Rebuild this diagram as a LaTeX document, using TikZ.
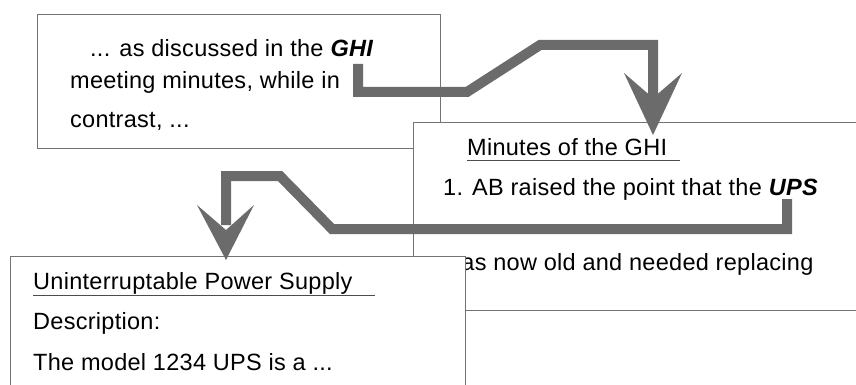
\documentclass[tikz,border=0pt]{standalone}
\usepackage{fontspec}
\setmainfont[LetterSpace=1.2]{Liberation Sans}
\begin{document}
\begin{tikzpicture}[x=1pt,y=-1pt,
  box/.style={draw=black!55, line width=0.7pt, fill=white, anchor=north west, inner sep=0pt},
  txt/.style={anchor=base west, inner sep=0pt, font=\fontsize{23.5}{26}\selectfont},
  uline/.style={draw=black!70, line width=0.8pt},
  band/.style={draw=black!58, line width=10pt, line join=miter},
  head/.style={fill=black!58}]
\useasboundingbox (0,0) rectangle (856,385);
\clip (0,0) rectangle (856,385);
% box 1
\node[box, minimum width=403pt, minimum height=134pt] (b1) at (37,14) {};
\node[txt] (a1) at (90,57) {... as discussed in the \textbf{\textit{GHI}}};
\node[txt] (a2) at (70,89) {meeting minutes, while in};
\node[txt] (a3) at (70,128) {contrast, ...};
% box 2
\node[box, minimum width=460pt, minimum height=188pt] (b2) at (413,122) {};
\node[txt] (m1) at (467,155) {Minutes of the GHI};
\draw[uline] ([yshift=-5pt]m1.base west) -- ++(213,0);
\node[txt] (m2) at (443,195) {1. AB raised the point that the \textbf{\textit{UPS}}};
\node[txt] (m3) at (444,270) {was now old and needed replacing};
% box 3
\node[box, minimum width=455pt, minimum height=150pt] (b3) at (10,256) {};
\node[txt] (u1) at (33,289) {Uninterruptable Power Supply};
\draw[uline] ([yshift=-6pt]u1.base west) -- ++(342,0);
\node[txt] (u2) at (33,329) {Description:};
\node[txt] (u3) at (33,370) {The model 1234 UPS is a ...};
% arrow 1
\coordinate (s1) at (358,64);
\coordinate (t1) at (653,135);
\draw[band] (s1) -- (358,92) -- (467,92) -- (540,45) -- (653,45) -- (653,100);
\fill[head] (624,73) -- (653,98) -- (682,73) -- (t1) -- cycle;
% arrow 2
\coordinate (s2) at (787,199);
\coordinate (t2) at (226,260);
\draw[band] (s2) -- (787,229) -- (332,229) -- (280,176) -- (226,176) -- (226,225);
\fill[head] (197,205) -- (226,230) -- (254,205) -- (t2) -- cycle;
\end{tikzpicture}
\end{document}
